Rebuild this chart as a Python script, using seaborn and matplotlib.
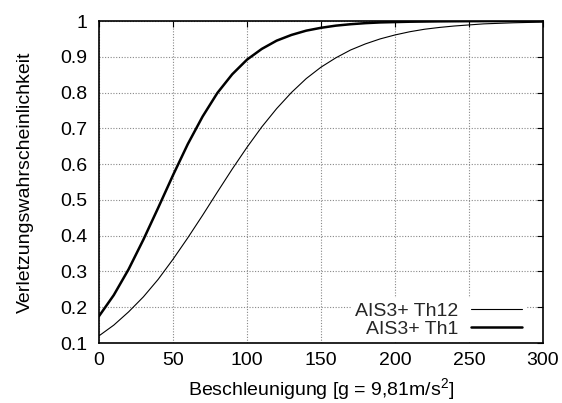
import matplotlib
matplotlib.use("Agg")
import matplotlib.pyplot as plt
import seaborn as sns
import pandas as pd

# Acceleration in units of g
accel = [0, 10, 20, 30, 40, 50, 60, 70, 80, 90, 100, 110, 120, 130, 140, 150,
         160, 170, 180, 190, 200, 210, 220, 230, 240, 250, 260, 270, 280, 290, 300]

# Injury probability, AIS3+ thorax criteria
p_th12 = [0.120, 0.150, 0.187, 0.229, 0.278, 0.334, 0.394, 0.457, 0.522, 0.586,
          0.647, 0.704, 0.755, 0.800, 0.839, 0.871, 0.897, 0.919, 0.936, 0.950,
          0.961, 0.970, 0.977, 0.982, 0.986, 0.989, 0.992, 0.9935, 0.995, 0.996, 0.997]
p_th1 = [0.175, 0.234, 0.306, 0.389, 0.478, 0.569, 0.656, 0.733, 0.799, 0.851,
         0.892, 0.922, 0.945, 0.961, 0.973, 0.981, 0.987, 0.991, 0.994, 0.996,
         0.997, 0.998, 0.9985, 0.999, 0.9993, 0.9995, 0.9997, 0.9997, 0.9998, 0.9998, 0.9999]

labels = ["AIS3+ Th12", "AIS3+ Th1"]
xticks = [0, 50, 100, 150, 200, 250, 300]
yticks = [0.1, 0.2, 0.3, 0.4, 0.5, 0.6, 0.7, 0.8, 0.9, 1.0]
ytick_labels = ["0.1", "0.2", "0.3", "0.4", "0.5", "0.6", "0.7", "0.8", "0.9", "1"]

df = pd.DataFrame({
    "x": accel * 2,
    "p": p_th12 + p_th1,
    "kurve": [labels[0]] * len(accel) + [labels[1]] * len(accel),
})

FS = 14

sns.set_theme(style="white")
plt.rcParams["font.family"] = ["Liberation Sans", "DejaVu Sans"]
plt.rcParams["mathtext.fontset"] = "custom"
plt.rcParams["mathtext.rm"] = "Liberation Sans"

fig = plt.figure(figsize=(5.62, 4.03), dpi=100)
ax = fig.add_axes([99 / 562, 1 - 343 / 403, 444 / 562, 322 / 403])

sns.lineplot(data=df, x="x", y="p", hue="kurve", size="kurve",
             hue_order=labels, size_order=labels,
             palette={labels[0]: "black", labels[1]: "black"},
             sizes={labels[0]: 0.8, labels[1]: 1.8},
             ax=ax, legend=False)

ax.set_xlim(0, 300)
ax.set_ylim(0.1, 1.0)
ax.set_xticks(xticks)
ax.set_xticklabels([str(t) for t in xticks])
ax.set_yticks(yticks)
ax.set_yticklabels(ytick_labels)

ax.grid(True, color="#888888", linestyle=(0, (1, 1.5)), linewidth=0.8)
ax.set_axisbelow(True)
for s in ax.spines.values():
    s.set_color("black")
    s.set_linewidth(1.2)

ax.tick_params(axis="both", direction="in", length=4, width=0.8, color="black",
               top=True, right=True, labelsize=FS, labelcolor="black")
ax.tick_params(axis="x", pad=6.5)
ax.tick_params(axis="y", pad=8.5)

ax.set_xlabel("Beschleunigung [g = 9,81m/s$^2$]", fontsize=FS, color="black", labelpad=5)
ax.set_ylabel("Verletzungswahrscheinlichkeit", fontsize=FS, color="black", labelpad=19)

lines = ax.get_lines()
leg = ax.legend(lines[:2], labels, loc="lower right", markerfirst=False,
                frameon=True, fancybox=False, framealpha=1.0, edgecolor="white",
                facecolor="white", fontsize=FS, handlelength=2.6,
                handletextpad=0.65, labelspacing=0.05, borderpad=0.2,
                borderaxespad=0, bbox_to_anchor=(0.961, 0.003))
leg.get_frame().set_linewidth(0)

fig.savefig("out.png", dpi=100)
